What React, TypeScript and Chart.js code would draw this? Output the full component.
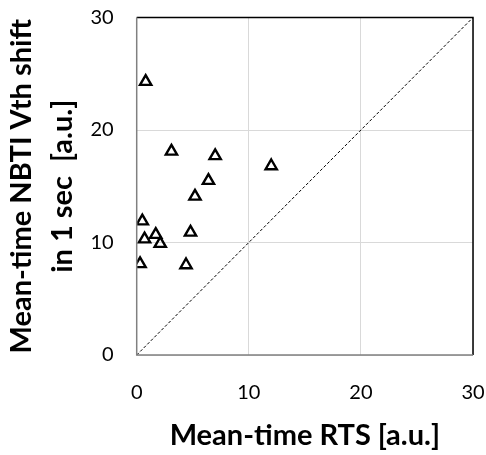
import React, { useEffect, useRef } from "react";
import { Chart, registerables } from "chart.js";

Chart.register(...registerables);

const rtsValues = [0.8, 3.1, 7.0, 6.4, 12.0, 5.2, 0.5, 4.8, 0.7, 1.7, 2.1, 0.3, 4.4];
const nbtiValues = [24.3, 18.1, 17.7, 15.5, 16.8, 14.1, 11.9, 10.9, 10.3, 10.7, 9.9, 8.1, 8.0];
const diagonal = [0, 30];
const axisMin = 0;
const axisMax = 30;
const tickStep = 10;
const xTitle = "Mean-time RTS [a.u.]";
const yTitle = ["Mean-time NBTI Vth shift", "in 1 sec  [a.u.]"];

const FONT = "Lato, 'Open Sans', sans-serif";

const frameBorder = {
  id: "frameBorder",
  afterDatasetsDraw(chart: any) {
    const { ctx, chartArea } = chart;
    const { left, right, top, bottom } = chartArea;
    ctx.save();
    ctx.strokeStyle = "#000";
    ctx.lineWidth = 1.5;
    ctx.beginPath();
    ctx.moveTo(left, top);
    ctx.lineTo(right, top);
    ctx.lineTo(right, bottom);
    ctx.stroke();
    ctx.strokeStyle = "#808080";
    ctx.lineWidth = 1.5;
    ctx.beginPath();
    ctx.moveTo(left, top);
    ctx.lineTo(left, bottom);
    ctx.lineTo(right, bottom);
    ctx.stroke();
    ctx.restore();
  },
};

export default function App() {
  const ref = useRef<HTMLCanvasElement | null>(null);
  useEffect(() => {
    if (!ref.current) return;
    const points = rtsValues.map((x, i) => ({ x, y: nbtiValues[i] }));
    const line = diagonal.map((v) => ({ x: v, y: v }));
    const chart = new Chart(ref.current, {
      type: "scatter",
      data: {
        datasets: [
          {
            data: line,
            showLine: true,
            borderColor: "#000",
            borderWidth: 1,
            borderDash: [3, 2],
            pointRadius: 0,
            fill: false,
          } as any,
          {
            data: points,
            pointStyle: "triangle",
            pointRadius: 6.5,
            pointBorderWidth: 2.4,
            borderColor: "#000",
            pointBorderColor: "#000",
            backgroundColor: "rgba(0,0,0,0)",
            pointBackgroundColor: "rgba(0,0,0,0)",
          } as any,
        ],
      },
      options: {
        animation: false,
        responsive: true,
        maintainAspectRatio: false,
        layout: { padding: { left: 0, right: 13, top: 17.5, bottom: 0 } },
        plugins: { legend: { display: false }, tooltip: { enabled: false } },
        scales: {
          x: {
            type: "linear",
            min: axisMin,
            max: axisMax,
            ticks: {
              stepSize: tickStep,
              color: "#000",
              padding: 26,
              font: { family: FONT, size: 20 },
            },
            grid: { color: "#d9d9d9", lineWidth: 1, drawTicks: false },
            border: { display: false },
            title: {
              display: true,
              text: xTitle,
              color: "#000",
              font: { family: FONT, size: 29, weight: "bold" },
              padding: { top: 0, bottom: 2 },
            },
            afterFit(scale: any) {
              scale.height = 100;
              scale.paddingLeft = 0;
              scale.paddingRight = 0;
            },
          },
          y: {
            type: "linear",
            min: axisMin,
            max: axisMax,
            ticks: {
              stepSize: tickStep,
              color: "#000",
              padding: 23,
              font: { family: FONT, size: 20 },
            },
            grid: { color: "#d9d9d9", lineWidth: 1, drawTicks: false },
            border: { display: false },
            title: {
              display: true,
              text: yTitle,
              color: "#000",
              font: { family: FONT, size: 29, weight: "bold", lineHeight: "41px" },
              padding: { top: 1, bottom: 0 },
            },
            afterFit(scale: any) {
              scale.width = 136.7;
              scale.paddingTop = 0;
              scale.paddingBottom = 0;
            },
          },
        },
      } as any,
      plugins: [frameBorder],
    });
    return () => chart.destroy();
  }, []);
  return (
    <div style={{ position: "fixed", left: 0, top: 0, width: 486, height: 455, background: "#fff" }}>
      <canvas ref={ref} />
    </div>
  );
}
